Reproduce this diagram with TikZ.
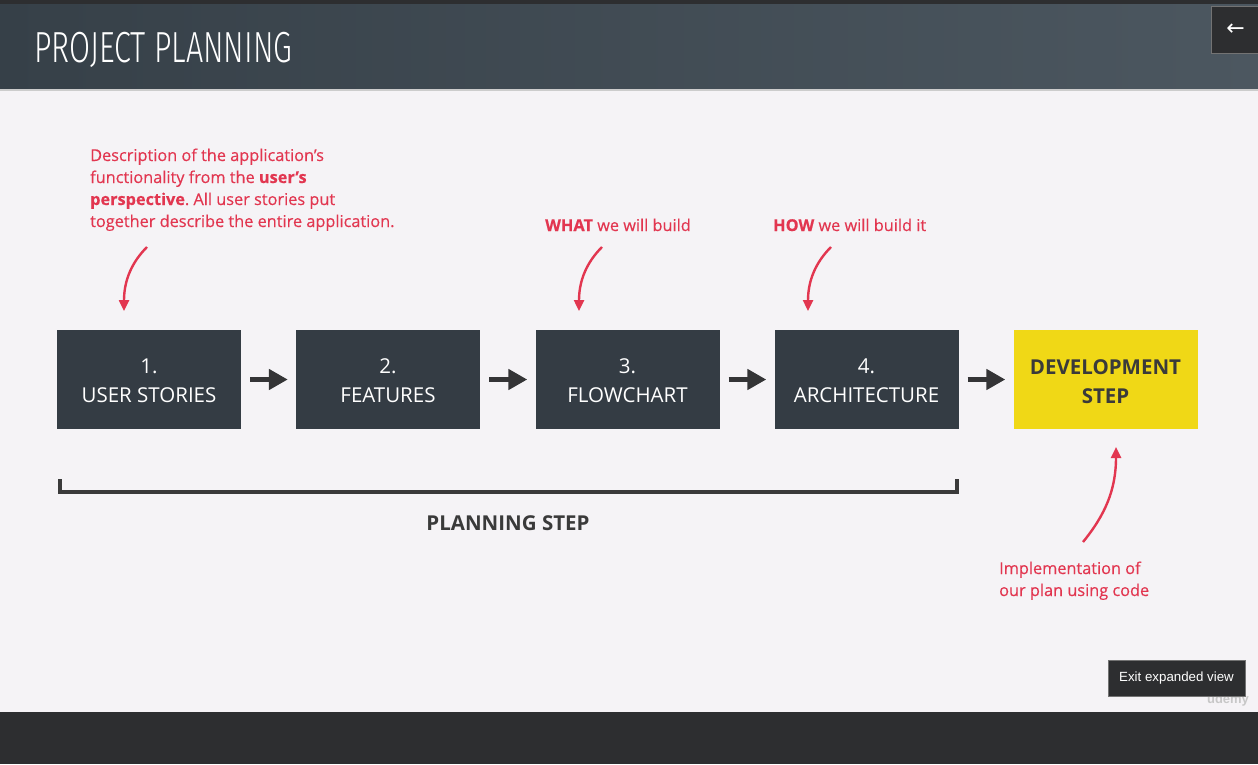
\documentclass[tikz,border=0pt]{standalone}
\usepackage{fontspec}
\usepackage{graphicx}
\setmainfont{Open Sans}
\newfontfamily\notefont{Open Sans}[FakeBold=0.35]
\newfontfamily\titlefont{Fira Sans Light}
\newfontfamily\uifont{Liberation Sans}
\newfontfamily\symfont{DejaVu Sans}
\usetikzlibrary{arrows.meta,positioning}
\frenchspacing
\definecolor{bodybg}{RGB}{245,243,246}
\definecolor{hdrL}{RGB}{54,64,72}
\definecolor{hdrR}{RGB}{76,87,96}
\definecolor{topbar}{RGB}{45,46,48}
\definecolor{boxdark}{RGB}{52,60,68}
\definecolor{accent}{RGB}{226,54,80}
\definecolor{devyellow}{RGB}{240,216,22}
\definecolor{darktext}{RGB}{58,58,58}
\definecolor{arrowdark}{RGB}{52,52,54}
\tikzset{
  stepbox/.style={fill=boxdark, minimum width=184pt, minimum height=99pt, inner sep=0pt},
  devbox/.style={fill=devyellow, minimum width=184pt, minimum height=99pt, inner sep=0pt},
  boxtext/.style={text=white, font=\fontsize{20.5}{29}\selectfont, align=center, inner sep=0pt, anchor=base},
  devtext/.style={text=darktext, font=\fontsize{20.5}{29}\selectfont\bfseries, align=center, inner sep=0pt, anchor=base},
  flowarrow/.style={draw=arrowdark, line width=5pt, -{Triangle[length=19pt,width=20pt]}, shorten <=9pt, shorten >=8pt},
  note/.style={text=accent, font=\notefont\fontsize{16.3}{22}\selectfont, inner sep=0pt, anchor=base west, align=left},
  notearrow/.style={draw=accent, line width=2.4pt, -{Triangle[length=11pt,width=10pt]}},
}
\begin{document}
\begin{tikzpicture}[x=1pt,y=-1pt]
\path[use as bounding box] (0,0) rectangle (1258,764);
% backgrounds
\fill[bodybg] (0,0) rectangle (1258,764);
\fill[topbar] (0,0) rectangle (1258,4);
\shade[left color=hdrL, right color=hdrR] (0,4) rectangle (1258,89);
\fill[black!20] (0,89) rectangle (1258,90.5);
\fill[topbar] (0,712) rectangle (1258,764);
% title
\node[anchor=base west, inner sep=0pt, text=white] (title) at (34,62)
  {\scalebox{0.70}[1]{\titlefont\fontsize{43.5}{44}\selectfont PROJECT PLANNING}};
% back button
\node[fill=topbar, draw=black!55, line width=0.8pt, minimum width=48pt, minimum height=47pt, inner sep=0pt] (back) at (1235.5,29.5)
  {\textcolor{white}{\symfont\fontsize{22}{22}\selectfont ←}};
% step boxes
\node[stepbox] (b1) at (149,379.5) {};
\node[stepbox] (b2) at (388,379.5) {};
\node[stepbox] (b3) at (627.5,379.5) {};
\node[stepbox] (b4) at (866.5,379.5) {};
\node[devbox]  (b5) at (1105.5,379.5) {};
\node[boxtext] (t1a) at (149,373) {1.};
\node[boxtext] (t1b) at (149,402) {USER STORIES};
\node[boxtext] (t2a) at (388,373) {2.};
\node[boxtext] (t2b) at (388,402) {FEATURES};
\node[boxtext] (t3a) at (627.5,373) {3.};
\node[boxtext] (t3b) at (627.5,402) {FLOWCHART};
\node[boxtext] (t4a) at (866.5,373) {4.};
\node[boxtext] (t4b) at (866.5,402) {ARCHITECTURE};
\node[devtext] (t5a) at (1105.5,374) {DEVELOPMENT};
\node[devtext] (t5b) at (1105.5,403) {STEP};
% flow arrows
\draw[flowarrow] (b1.east) -- (b2.west);
\draw[flowarrow] (b2.east) -- (b3.west);
\draw[flowarrow] (b3.east) -- (b4.west);
\draw[flowarrow] (b4.east) -- (b5.west);
% planning bracket
\coordinate (brL) at (59.5,479);
\coordinate (brR) at (956.5,479);
\draw[draw=darktext, line width=4pt, line cap=butt, line join=miter] (brL) -- ++(0,13) -| (brR);
\node[text=darktext, font=\fontsize{20.5}{24}\selectfont\bfseries, inner sep=0pt, anchor=base] (plan) at (508,530) {PLANNING STEP};
% notes (anchor base = baseline of last line)
\node[note] (n1) at (90,227) {Description of the application’s\\functionality from the \textbf{user’s}\\\textbf{perspective}. All user stories put\\together describe the entire application.};
\node[note] (n3) at (545,231) {\textbf{WHAT} we will build};
\node[note] (n4) at (773,231) {\textbf{HOW} we will build it};
\node[note] (n5) at (999,596) {Implementation of\\our plan using code};
% note arrows
\coordinate (a1s) at (147,247);
\coordinate (a1e) at (124,311);
\coordinate (a3s) at (602,247);
\coordinate (a3e) at (579,311);
\coordinate (a4s) at (831,247);
\coordinate (a4e) at (808,311);
\coordinate (a5s) at (1083,542);
\coordinate (a5e) at (1116,447);
\draw[notearrow] (a1s) .. controls (132,262) and (124,280) .. (a1e);
\draw[notearrow] (a3s) .. controls (587,262) and (579,280) .. (a3e);
\draw[notearrow] (a4s) .. controls (816,262) and (808,280) .. (a4e);
\draw[notearrow] (a5s) .. controls (1105,515) and (1116,490) .. (a5e);
% watermark and tooltip
\node[text=black!22, font=\uifont\fontsize{13}{13}\selectfont\bfseries, inner sep=0pt, anchor=base] (wm) at (1228,703) {udemy};
\node[fill=topbar, draw=black!55, line width=0.8pt, minimum width=137pt, minimum height=36pt, inner sep=0pt, text=white, font=\uifont\fontsize{13.3}{14}\selectfont] (tip) at (1176.5,678) {Exit expanded view};
\end{tikzpicture}
\end{document}
